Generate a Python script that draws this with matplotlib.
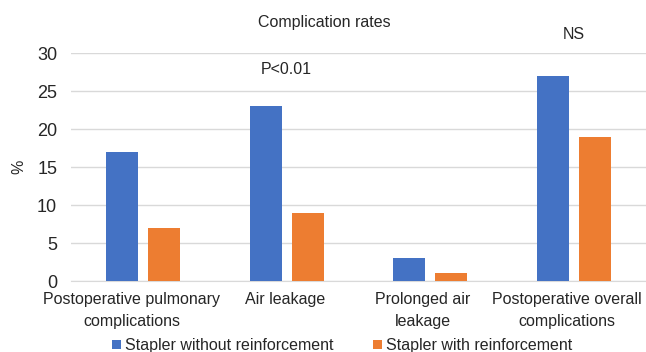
import numpy as np
import matplotlib.pyplot as plt
from matplotlib.transforms import ScaledTranslation

plt.rcParams['font.family'] = ['Liberation Sans', 'DejaVu Sans']

# 데이터
categories = ['Postoperative pulmonary\ncomplications', 'Air leakage',
              'Prolonged air\nleakage', 'Postoperative overall\ncomplications']
without_reinf = [17, 23, 3, 27]
with_reinf = [7, 9, 1, 19]
series_names = ['Stapler without reinforcement', 'Stapler with reinforcement']
notes = ['', 'P<0.01', '', 'NS']
note_y = [0, 27.8, 0, 32.4]

x = np.arange(len(categories))
w = 0.223
off = 0.146

fig = plt.figure(figsize=(6.46, 3.52), dpi=100)
ax = fig.add_axes([0.110, 0.2017, 0.890, 0.6477])

ax.bar(x - off, without_reinf, w, color='#4472C4', label=series_names[0], zorder=3)
ax.bar(x + off, with_reinf, w, color='#ED7D31', label=series_names[1], zorder=3)

for i, t in enumerate(notes):
    if t:
        ax.text(x[i], note_y[i], t, ha='center', va='center', fontsize=11.5,
                color='#262626', clip_on=False)

ax.set_xlim(-0.5, len(categories) - 0.5)
ax.set_ylim(0, 30)
ax.set_yticks(range(0, 31, 5))
ax.set_xticks(x)
ax.set_xticklabels(categories, fontsize=11.5, color='#262626', linespacing=1.6)
ax.tick_params(axis='y', labelsize=13, colors='#262626', length=0, pad=10)
ax.tick_params(axis='x', length=0, pad=8)
ax.yaxis.grid(True, color='#d9d9d9', linewidth=1, zorder=0)
for s in ['top', 'right', 'left']:
    ax.spines[s].set_visible(False)
ax.spines['bottom'].set_color('#d9d9d9')
ax.set_axisbelow(True)

# 라벨이 가장자리에서 잘리지 않도록 살짝 왼쪽으로 이동
shifts = [-11, -1.5, -7.5, -7]
for lab, dx in zip(ax.get_xticklabels(), shifts):
    lab.set_transform(lab.get_transform() + ScaledTranslation(dx / 100, 0, fig.dpi_scale_trans))

ax.set_ylabel('%', fontsize=11.5, color='#262626', labelpad=8)
fig.text(0.5015, 0.935, 'Complication rates', ha='center', va='center',
         fontsize=11.5, color='#262626')

fig.legend(loc='center', bbox_to_anchor=(0.53, 0.018), ncol=2, frameon=False,
           fontsize=11.5, handlelength=0.55, handleheight=0.55, handletextpad=0.25,
           columnspacing=2.5, labelcolor='#262626')

plt.savefig('out.png', dpi=100)
